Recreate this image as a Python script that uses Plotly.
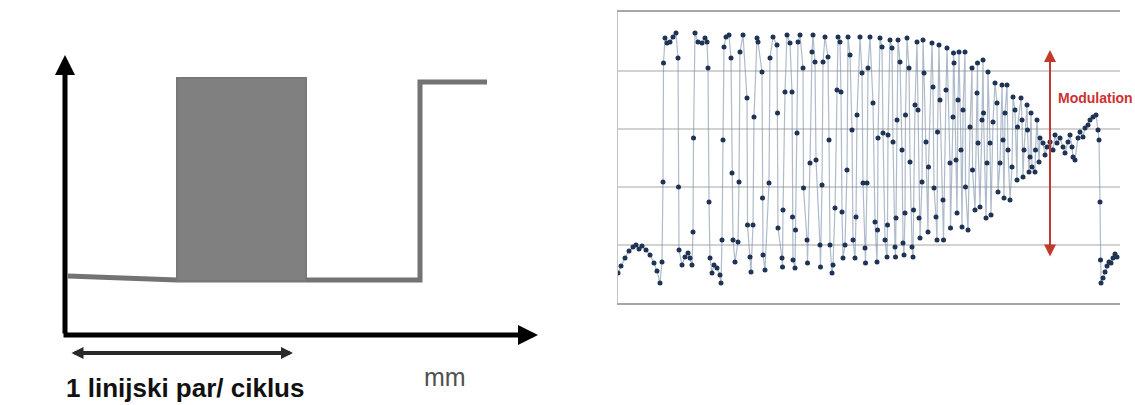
import plotly.graph_objects as go

# ---------------- Left diagram (schematic, units: diagram px) ----------------
y_axis_from = [0, 0]
y_axis_to = [0, 280]
x_axis_from = [-3, 0]
x_axis_to = [473, 0]

step_x = [3, 112, 241, 355, 355, 422]
step_y = [59, 55, 55, 55, 253, 253]

bar_x = [112, 241]
bar_y = [54, 257]

cycle_arrow_x = [5, 228]
cycle_arrow_y = -18

cycle_label = "1 linijski par/ ciklus"
cycle_label_pos = [-1, -53]
unit_label = "mm"
unit_label_pos = [380, -42]

# ---------------- Right chart: sampled signal ----------------
signal_x = [
    0, 3, 7, 11, 15, 18, 21, 24, 28, 32, 36, 39, 42,
    44, 45, 45.5, 47, 49, 52, 55, 58, 60, 60.5, 61,
    64, 67, 70, 72, 74, 75, 75.5, 77, 80, 84, 87, 89,
    90, 91, 92, 94, 96, 99, 102, 103, 104, 105, 106, 108, 111,
    113, 114, 115, 117, 120, 121, 122, 125, 129, 129.5, 132, 133,
    135, 136, 139, 140, 144, 144.5, 145, 147, 151, 152, 155,
    159, 159.5, 160, 164, 164.5, 165, 167, 169, 172, 174, 174.5,
    175, 177, 177.5, 179, 180, 182, 185, 185.5, 189, 189.5,
    192, 194, 195, 197, 198, 202, 202.5, 204, 205, 207,
    210, 211, 212, 214, 215, 217, 219, 220, 222, 223, 224,
    225, 227, 229, 230, 232, 234, 235, 237, 238, 239, 242,
    244, 245, 247, 247.5, 249, 250, 252, 255, 257, 259,
    259.5, 260, 262, 264, 265, 267, 269, 269.5, 270, 272, 274,
    275, 277, 277.5, 278, 279, 280, 282, 284, 285, 286,
    287, 287.5, 289, 291, 292, 294, 295, 295.5, 297, 299,
    300, 301, 302, 304, 305, 306, 308, 310, 310.5, 314, 315,
    316, 318, 319, 319.5, 321, 322, 325, 325.5, 328, 329,
    332, 332.5, 335, 335.5, 336, 338, 339, 340, 341, 343, 344,
    345, 347, 347.5, 350, 352, 354, 354.5, 357, 359, 359.5, 360,
    362, 364, 365, 365.5, 368, 369, 370, 372, 373, 375, 377,
    379, 380, 382, 384, 385, 386, 387, 389, 390, 392, 394,
    395, 397, 399, 399.5, 403, 404, 405, 406, 409, 409.5, 411,
    412, 413, 414, 417, 417.5, 419, 421,
    422, 425, 427, 429, 432, 435, 437, 439, 442, 445, 447,
    450, 452, 454, 455, 457, 460, 462, 465, 467, 470, 472,
    475, 478, 480, 481, 482, 482.5,
    483, 485, 487, 489, 491, 493, 495, 497, 499,
]
signal_y = [
    30, 37, 45, 52, 56, 58, 54, 57, 53, 48, 40, 32, 20,
    41, 121, 240, 265, 260, 261, 266, 270, 245, 116, 53,
    38, 46, 50, 45, 38, 71, 165, 270, 261, 260, 265, 261,
    235, 101, 45, 30, 38, 35, 28, 20, 63, 163, 256, 266, 268,
    245, 130, 63, 41, 61, 121, 251, 268, 205, 78, 46, 31,
    78, 186, 265, 261, 231, 105, 48, 33, 120, 245, 266,
    258, 190, 75, 45, 36, 93, 211, 268, 260, 211, 86,
    43, 35, 73, 170, 261, 268, 235, 115, 63, 40,
    140, 251, 268, 241, 143, 58, 36, 118, 241, 266,
    246, 163, 58, 30, 38, 95, 213, 266, 261, 211, 91,
    45, 58, 133, 266, 248, 173, 63, 45, 86, 188, 266,
    230, 120, 55, 40, 120, 235, 266, 200, 81, 41,
    73, 165, 265, 256, 170, 63, 46, 78, 168, 263, 255,
    161, 56, 46, 85, 183, 263, 241, 153, 60, 48,
    90, 188, 265, 235, 141, 56, 46, 93, 198, 261,
    193, 85, 65, 121, 263, 230, 161, 71, 136, 260, 216,
    115, 86, 63, 171, 258, 203, 103, 63, 213, 255,
    140, 75, 186, 250, 240, 143, 90, 203, 251, 153, 76,
    193, 251, 116, 73, 176, 235, 133, 93, 210, 240, 160,
    96, 183, 243, 190, 85, 140, 231, 160, 88, 181, 220,
    200, 111, 140, 218, 163, 105, 190, 218, 153, 103, 136,
    206, 193, 123, 176, 205, 183, 126, 153, 198, 173, 131,
    146, 190, 136, 131, 153, 183, 141,
    165, 160, 148, 156, 161, 153, 168, 160, 165, 156, 150,
    161, 168, 156, 146, 143, 165, 171, 166, 175, 178, 183,
    186, 188, 173, 163, 101, 43,
    20, 25, 31, 37, 41, 40, 45, 49, 46,
]

grid_step = 58
signal_range_y = [0, 291]
signal_range_x = [0, 502]

modulation_x = 432
modulation_top = 253
modulation_bottom = 45
modulation_label = "Modulation"
modulation_label_pos = [438, 205]

fig = go.Figure()

# step profile (drawn first, bar drawn over it)
fig.add_trace(go.Scatter(
    x=step_x, y=step_y, mode="lines",
    line=dict(color="#737373", width=5),
    xaxis="x", yaxis="y", hoverinfo="skip", showlegend=False))

# gray bar
fig.add_trace(go.Scatter(
    x=[bar_x[0], bar_x[1], bar_x[1], bar_x[0], bar_x[0]],
    y=[bar_y[0], bar_y[0], bar_y[1], bar_y[1], bar_y[0]],
    mode="lines", fill="toself", fillcolor="#808080",
    line=dict(color="#787878", width=2),
    xaxis="x", yaxis="y", hoverinfo="skip", showlegend=False))

# signal
fig.add_trace(go.Scatter(
    x=signal_x, y=signal_y, mode="lines+markers",
    line=dict(color="rgba(120,142,168,0.6)", width=1.2),
    marker=dict(color="#1f3354", size=5),
    xaxis="x2", yaxis="y2", hoverinfo="skip", showlegend=False))

annotations = [
    # y axis arrow
    dict(x=y_axis_to[0], y=y_axis_to[1], ax=y_axis_from[0], ay=y_axis_from[1],
         xref="x", yref="y", axref="x", ayref="y", showarrow=True, text="",
         arrowhead=2, arrowwidth=5, arrowsize=0.8, arrowcolor="#000000"),
    # x axis arrow
    dict(x=x_axis_to[0], y=x_axis_to[1], ax=x_axis_from[0], ay=x_axis_from[1],
         xref="x", yref="y", axref="x", ayref="y", showarrow=True, text="",
         arrowhead=2, arrowwidth=5, arrowsize=0.8, arrowcolor="#000000"),
    # one cycle double arrow
    dict(x=cycle_arrow_x[1], y=cycle_arrow_y, ax=cycle_arrow_x[0], ay=cycle_arrow_y,
         xref="x", yref="y", axref="x", ayref="y", showarrow=True, text="",
         arrowhead=2, startarrowhead=2, arrowside="end+start", arrowwidth=4,
         arrowsize=0.6, startarrowsize=0.6, arrowcolor="#2a2a2a"),
    dict(x=cycle_label_pos[0], y=cycle_label_pos[1], xref="x", yref="y",
         text="<b>" + cycle_label + "</b>", showarrow=False,
         xanchor="left", yanchor="middle",
         font=dict(family="Liberation Sans, Arial", size=26, color="#111111")),
    dict(x=unit_label_pos[0], y=unit_label_pos[1], xref="x", yref="y",
         text=unit_label, showarrow=False, xanchor="center", yanchor="middle",
         font=dict(family="Liberation Sans, Arial", size=25, color="#505050")),
    # modulation arrow
    dict(x=modulation_x, y=modulation_top, ax=modulation_x, ay=modulation_bottom,
         xref="x2", yref="y2", axref="x2", ayref="y2", showarrow=True, text="",
         arrowhead=2, startarrowhead=2, arrowside="end+start", arrowwidth=2,
         arrowsize=1.2, startarrowsize=1.2, arrowcolor="#c0392b"),
    dict(x=modulation_label_pos[0], y=modulation_label_pos[1], xref="x2", yref="y2",
         text="<b>" + modulation_label + "</b>", showarrow=False,
         xanchor="left", yanchor="middle",
         font=dict(family="Liberation Sans, Arial", size=14, color="#d03030")),
]

hidden = dict(visible=False, showgrid=False, zeroline=False, fixedrange=True)

fig.update_layout(
    width=1135, height=405,
    margin=dict(l=0, r=0, t=0, b=0),
    paper_bgcolor="white", plot_bgcolor="white",
    showlegend=False,
    hovermode=False,
    xaxis=dict(domain=[0, 560 / 1135], range=[-65, 495], **hidden),
    yaxis=dict(domain=[0, 1], range=[-70, 335], **hidden),
    xaxis2=dict(domain=[618 / 1135, 1120 / 1135], range=signal_range_x,
                anchor="y2", showgrid=False, zeroline=False, fixedrange=True,
                showticklabels=False, ticks="", showline=True, mirror=True,
                linecolor="#a6a6a6", linewidth=2),
    yaxis2=dict(domain=[102 / 405, 393 / 405], range=signal_range_y,
                anchor="x2", showgrid=True, gridcolor="#d2d2d2", gridwidth=1.5,
                tick0=0, dtick=grid_step, zeroline=False, fixedrange=True,
                showticklabels=False, ticks="", showline=True,
                linecolor="#c4c4c4", linewidth=1),
    annotations=annotations,
)

fig.write_html(
    "out.html",
    config={"displayModeBar": False},
    post_script="document.body.style.margin='0';document.body.style.overflow='hidden';",
)
